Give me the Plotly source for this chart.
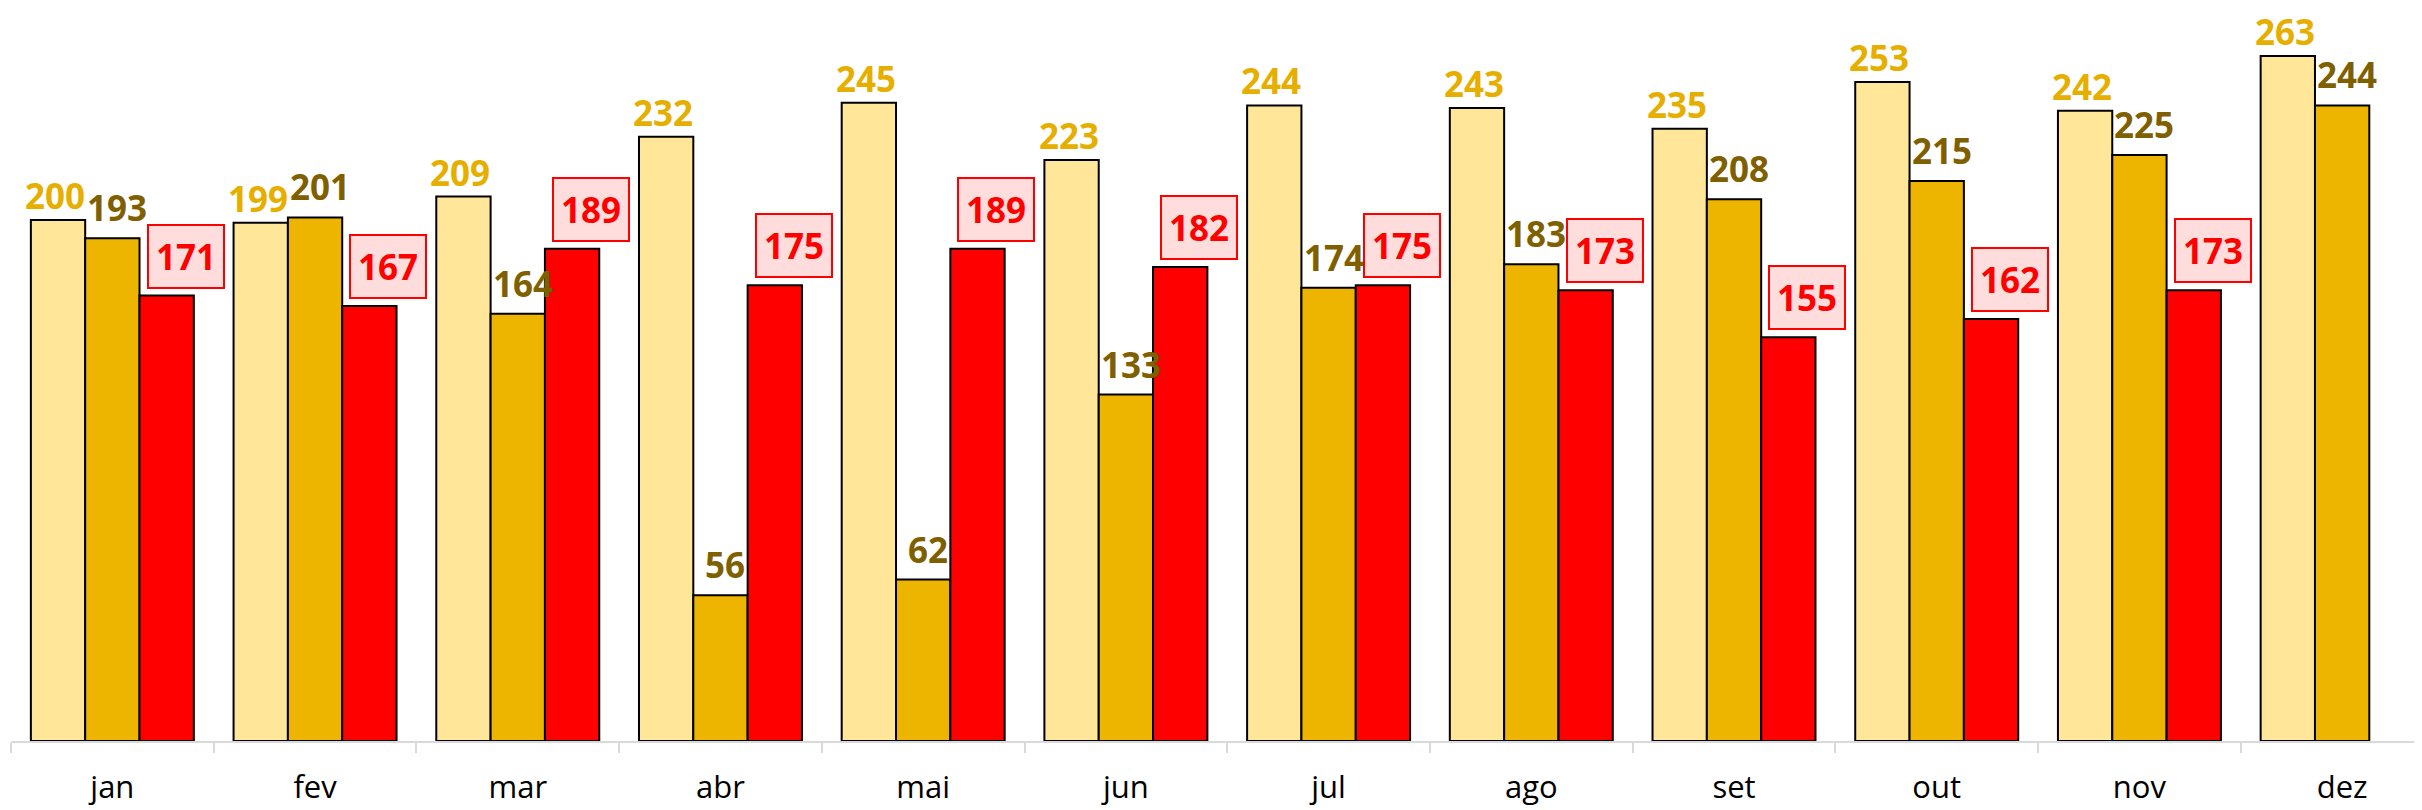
import plotly.graph_objects as go

# monthly values, three series
months = ["jan", "fev", "mar", "abr", "mai", "jun", "jul", "ago", "set", "out", "nov", "dez"]
serie_a = [200, 199, 209, 232, 245, 223, 244, 243, 235, 253, 242, 263]
serie_b = [193, 201, 164, 56, 62, 133, 174, 183, 208, 215, 225, 244]
serie_c = [171, 167, 189, 175, 189, 182, 175, 173, 155, 162, 173, None]

FONT = "Open Sans"
BAR_PX = 54.3  # width of one bar in pixels, used to shift labels onto their bar

fig = go.Figure()
fig.add_trace(go.Bar(x=months, y=serie_a, name="a", marker=dict(color="#FFE699", line=dict(color="black", width=2))))
fig.add_trace(go.Bar(x=months, y=serie_b, name="b", marker=dict(color="#EDB500", line=dict(color="black", width=2))))
fig.add_trace(go.Bar(x=months, y=serie_c, name="c", marker=dict(color="#FF0000", line=dict(color="black", width=2))))

annotations = []
for m, a, b, c in zip(months, serie_a, serie_b, serie_c):
    annotations.append(dict(x=m, y=a, text=f"<b>{a}</b>", showarrow=False, xref="x", yref="y",
                            yanchor="bottom", xshift=-BAR_PX - 3, yshift=0, borderpad=0,
                            font=dict(family=FONT, size=35, color="#E6AF00")))
    annotations.append(dict(x=m, y=b, text=f"<b>{b}</b>", showarrow=False, xref="x", yref="y",
                            yanchor="bottom", xshift=5, yshift=6, borderpad=0,
                            font=dict(family=FONT, size=35, color="#7F6000")))
    if c is not None:
        annotations.append(dict(x=m, y=c, text=f"<b>{c}</b>", showarrow=False, xref="x", yref="y",
                                yanchor="bottom", xshift=BAR_PX + 19, yshift=7,
                                bgcolor="#FFDDDD", bordercolor="#FF0000", borderwidth=2, borderpad=7,
                                font=dict(family=FONT, size=35, color="#FF0000")))

# page body adds an 8px margin, so the figure is kept a bit smaller than the window
fig.update_layout(
    width=2414, height=802,
    margin=dict(l=3, r=0, t=0, b=69),
    barmode="group", bargap=0.196, bargroupgap=0,
    plot_bgcolor="white", paper_bgcolor="white",
    showlegend=False,
    annotations=annotations,
    xaxis=dict(range=[-0.5, 11.394], showline=True, linecolor="#D9D9D9", linewidth=2,
               ticks="outside", tickson="boundaries", ticklen=10, tickcolor="#D9D9D9", tickwidth=2,
               ticklabelstandoff=18,
               tickfont=dict(family=FONT, size=31, color="black"), showgrid=False),
    yaxis=dict(range=[0, 281.4], visible=False, showgrid=False),
)

fig.write_html("out.html")
